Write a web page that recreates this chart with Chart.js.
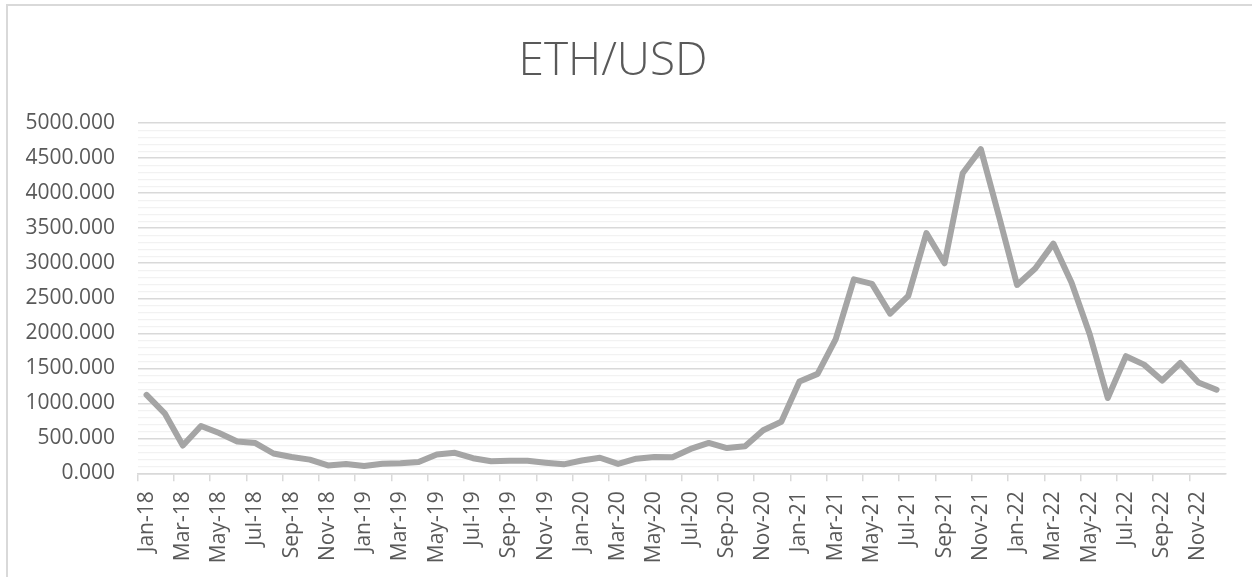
<!DOCTYPE html>
<html>
<head>
<meta charset="utf-8">
<script src="https://cdn.jsdelivr.net/npm/chart.js@4.4.1/dist/chart.umd.min.js"></script>
<style>
  html, body { margin: 0; padding: 0; background: #fff; overflow: hidden; }
  #frame { position: absolute; left: 6px; top: 4px; width: 2000px; height: 2000px; border: 2px solid #d9d9d9; }
  #wrap { position: absolute; left: 0; top: 0; width: 1252px; height: 577px; }
</style>
</head>
<body>
<div id="frame"></div>
<div id="wrap"><canvas id="chart"></canvas></div>
<script>
// months, Jan-18 .. Dec-22
const months = [
  'Jan-18','Feb-18','Mar-18','Apr-18','May-18','Jun-18','Jul-18','Aug-18','Sep-18','Oct-18','Nov-18','Dec-18',
  'Jan-19','Feb-19','Mar-19','Apr-19','May-19','Jun-19','Jul-19','Aug-19','Sep-19','Oct-19','Nov-19','Dec-19',
  'Jan-20','Feb-20','Mar-20','Apr-20','May-20','Jun-20','Jul-20','Aug-20','Sep-20','Oct-20','Nov-20','Dec-20',
  'Jan-21','Feb-21','Mar-21','Apr-21','May-21','Jun-21','Jul-21','Aug-21','Sep-21','Oct-21','Nov-21','Dec-21',
  'Jan-22','Feb-22','Mar-22','Apr-22','May-22','Jun-22','Jul-22','Aug-22','Sep-22','Oct-22','Nov-22','Dec-22'
];

// ETH/USD
const ethUsd = [
  1119, 857, 397, 676, 575, 453, 432, 283, 232, 195, 112, 132,
  105, 136, 142, 162, 270, 293, 216, 171, 178, 180, 152, 128,
  182, 222, 134, 208, 233, 228, 348, 434, 360, 386, 614, 737,
  1312, 1420, 1915, 2770, 2705, 2280, 2535, 3430, 3000, 4285, 4630, 3670,
  2690, 2925, 3280, 2726, 1990, 1075, 1672, 1552, 1325, 1575, 1296, 1194
];

const yMin = 0;
const yMax = 5000;
const yMajor = 500;
const yMinor = 100;

const txt = '#595959';
const font = "'Open Sans', 'Noto Sans', sans-serif";

new Chart(document.getElementById('chart'), {
  type: 'line',
  data: {
    labels: months,
    datasets: [{
      label: 'ETH/USD',
      data: ethUsd,
      borderColor: '#a5a5a5',
      borderWidth: 6,
      pointRadius: 0,
      tension: 0,
      borderJoinStyle: 'round',
      borderCapStyle: 'round',
      fill: false
    }]
  },
  options: {
    responsive: true,
    maintainAspectRatio: false,
    animation: false,
    layout: { padding: { left: 0, right: 26, top: 0, bottom: 0 } },
    plugins: {
      legend: { display: false },
      tooltip: { enabled: false },
      title: {
        display: true,
        text: 'ETH/USD',
        color: txt,
        font: { family: font, size: 46, weight: '300' },
        padding: { top: 34, bottom: 34 }
      }
    },
    scales: {
      x: {
        offset: true,
        grid: {
          display: true,
          offset: true,
          drawOnChartArea: false,
          drawTicks: true,
          tickLength: 8,
          color: c => (c.index % 2 === 0 ? '#d9d9d9' : 'rgba(0,0,0,0)'),
          lineWidth: 1.5
        },
        border: { display: true, color: '#d9d9d9', width: 1.5 },
        ticks: {
          autoSkip: false,
          maxRotation: 90,
          minRotation: 90,
          padding: 10,
          color: txt,
          font: { family: font, size: 21 },
          callback: (v, i) => (i % 2 === 0 ? months[i] : '')
        },
        afterFit: s => { s.height = 577 - 473.3; }
      },
      y: {
        min: yMin,
        max: yMax,
        border: { display: false },
        grid: {
          drawTicks: false,
          color: c => (c.tick.value % yMajor === 0 ? '#d9d9d9' : '#f2f2f2'),
          lineWidth: c => (c.tick.value % yMajor === 0 ? 1.5 : 1.2)
        },
        ticks: {
          stepSize: yMinor,
          maxTicksLimit: 100,
          autoSkip: false,
          padding: 22.5,
          color: txt,
          font: { family: font, size: 21 },
          callback: v => (v % yMajor === 0 ? v.toFixed(3) : '')
        },
        afterFit: s => { s.width = 137.5; }
      }
    }
  }
});
</script>
</body>
</html>
